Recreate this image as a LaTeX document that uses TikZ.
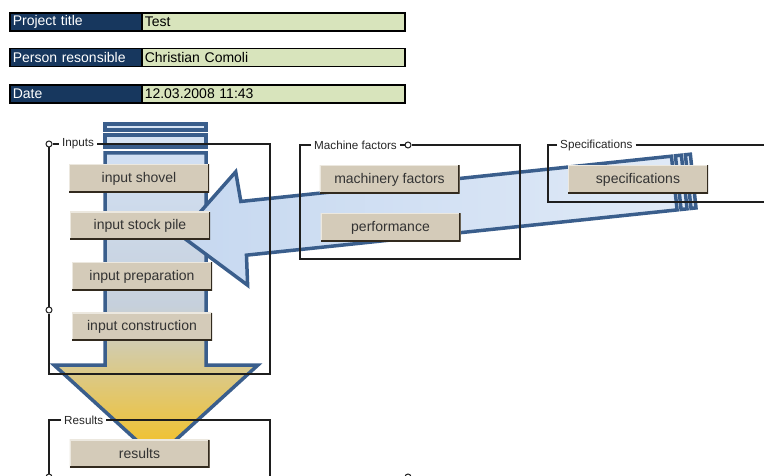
\documentclass[tikz,border=0pt]{standalone}
\usepackage{fontspec}
\setmainfont{Liberation Sans}
\usepackage{xcolor}
\definecolor{titlebg}{RGB}{23,55,94}
\definecolor{valuebg}{RGB}{216,228,188}
\definecolor{btnfill}{RGB}{212,203,185}
\definecolor{btnedge}{RGB}{50,42,30}
\definecolor{arrowline}{RGB}{58,94,140}
\definecolor{arrowblue}{RGB}{198,216,240}
\definecolor{arrowmid}{RGB}{198,208,220}
\definecolor{arrowgold}{RGB}{245,192,30}
\definecolor{framegray}{RGB}{30,30,30}
\newcommand{\cellfont}{\fontsize{14}{16}\selectfont}
\newcommand{\tagfont}{\fontsize{11.7}{13}\selectfont}
\tikzstyle{titlecell}=[draw=black, line width=1.5pt, fill=titlebg, text=white, anchor=west, minimum height=18pt, inner xsep=3pt, inner ysep=1pt, text width=126pt, align=left, font=\cellfont]
\tikzstyle{valuecell}=[draw=black, line width=1.5pt, fill=valuebg, anchor=west, minimum height=18pt, inner xsep=3pt, inner ysep=1pt, text width=257pt, align=left, font=\cellfont]
\tikzstyle{button}=[fill=btnfill, minimum width=140pt, minimum height=28pt, inner sep=0pt, text=black!80, font=\cellfont,
  path picture={
    \draw[white!55!btnfill, line width=2pt] (path picture bounding box.south west) -- (path picture bounding box.north west) -- (path picture bounding box.north east);
    \draw[btnedge, line width=3pt] (path picture bounding box.north east) -- (path picture bounding box.south east) -- (path picture bounding box.south west);}]
\tikzstyle{groupframe}=[draw=framegray, line width=1.6pt]
\tikzstyle{framelabel}=[anchor=west, inner sep=3pt, text=black!85, font=\tagfont]
\tikzstyle{joint}=[circle, draw=framegray, fill=white, line width=1pt, minimum size=6pt, inner sep=0pt]
\tikzstyle{arrowbody}=[draw=arrowline, line width=3.5pt, line join=miter]

\begin{document}
\begin{tikzpicture}[x=1pt,y=-1pt]
  \useasboundingbox (0,0) rectangle (764,476);
  \clip (0,0) rectangle (764,476);

  %% Downward arrow
  \draw[arrowbody, top color=arrowblue!80!white, bottom color=arrowgold, middle color=arrowmid]
    (105,153) -- (206,153) -- (206,365) -- (258,365) -- (156,458) -- (54,365) -- (105,365) -- cycle;
  \draw[arrowbody, fill=arrowblue!70!white] (105,135) rectangle (206,147);
  \draw[arrowbody, fill=arrowblue!70!white] (105,124) rectangle (206,130);

  %% Left pointing arrow
  \begin{scope}[shift={(180,235)}, rotate=6]
    \draw[arrowbody, left color=arrowblue, right color=arrowblue!55!white]
      (0,0) -- (62,-57) -- (64,-27) -- (497,-27) -- (497,27) -- (64,27) -- (62,57) -- cycle;
    \draw[arrowbody, fill=arrowblue!55!white] (501,-27) rectangle (507,27);
    \draw[arrowbody, fill=arrowblue!55!white] (511,-27) rectangle (516,27);
  \end{scope}

  %% Inputs
  \draw (49,144) node[joint] (InJoint) {};
  \draw (49,310) node[joint] (InJointB) {};
  \draw (59,144) node[framelabel] (InLabel) {Inputs};
  \draw[groupframe] (InJoint.east) -- (InLabel.west);
  \draw[groupframe] (InLabel.east) -- (270,144) -- (270,374) -- (49,374) -- (InJointB.south);
  \draw[groupframe] (InJointB.north) -- (InJoint.south);

  %% Machine factors
  \draw (408,145) node[joint] (MfJoint) {};
  \draw (311,145) node[framelabel] (MfLabel) {Machine factors};
  \draw[groupframe] (MfLabel.west) -- (300,145) -- (300,259) -- (520,259) -- (520,145) -- (MfJoint.east);
  \draw[groupframe] (MfLabel.east) -- (MfJoint.west);

  %% Specifications
  \draw (557,145) node[framelabel] (SpLabel) {Specifications};
  \draw[groupframe] (SpLabel.west) -- (548,145) -- (548,202) -- (770,202);
  \draw[groupframe] (SpLabel.east) -- (770,145);

  %% Results
  \draw (49,477) node[joint] (ResJoint) {};
  \draw (61,420) node[framelabel] (ResLabel) {Results};
  \draw[groupframe] (ResLabel.west) -- (49,420) -- (ResJoint.north);
  \draw[groupframe] (ResLabel.east) -- (270,420) -- (270,480);
  \draw (408,477) node[joint] (NextJoint) {};

  %% Buttons
  \draw (139,178.5) node[button] (Shovel) {input shovel};
  \draw (140,226) node[button] (StockPile) {input stock pile};
  \draw (142,276.5) node[button] (Preparation) {input preparation};
  \draw (142,326.5) node[button] (Construction) {input construction};
  \draw (139.5,453.5) node[button] (Result) {results};
  \draw (389.5,179.5) node[button] (Machinery) {machinery factors};
  \draw (390.5,227.5) node[button] (Performance) {performance};
  \draw (638,179.5) node[button] (Specs) {specifications};

  %% Header
  \draw (9,22) node[titlecell] (TitleKey) {Project title};
  \draw (141,22) node[valuecell] (TitleVal) {Test};
  \draw (9,57.5) node[titlecell] (PersonKey) {Person resonsible};
  \draw (141,57.5) node[valuecell] (PersonVal) {Christian Comoli};
  \draw (9,94) node[titlecell] (DateKey) {Date};
  \draw (141,94) node[valuecell] (DateVal) {12.03.2008 11:43};
\end{tikzpicture}
\end{document}
